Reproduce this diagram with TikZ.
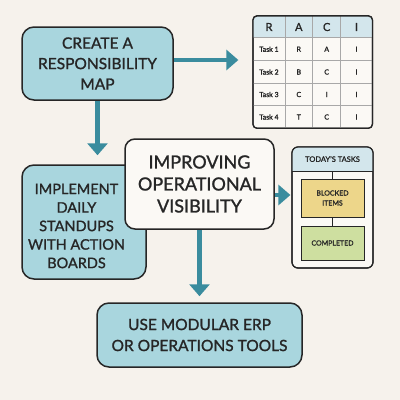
\documentclass[tikz,border=0pt]{standalone}
\usepackage{fontspec}
\setmainfont{Lato}[FakeBold=1.3]
\usetikzlibrary{arrows.meta,calc}
\definecolor{bgc}{HTML}{F6F2EC}
\definecolor{tealbox}{HTML}{A9D6DE}
\definecolor{arrc}{HTML}{3A8C9E}
\definecolor{edge}{HTML}{262626}
\definecolor{hdr}{HTML}{D3E6EC}
\definecolor{paper}{HTML}{FBF9F5}
\definecolor{yel}{HTML}{EDD68A}
\definecolor{grn}{HTML}{CEDFA0}
\definecolor{gridc}{HTML}{A8A8A8}
\tikzset{
  tbox/.style={draw=edge,line width=1.5pt,fill=tealbox,rounded corners=12pt,align=center,inner sep=0pt,text=edge},
  wbox/.style={draw=edge,line width=1.5pt,fill=paper,rounded corners=10pt,align=center,inner sep=0pt,text=edge},
  arr/.style={draw=arrc,line width=4.5pt,-{Triangle[length=12pt,width=20pt]}},
  cell/.style={inner sep=0pt,text=edge,font=\fontsize{7}{8}\selectfont},
  hcell/.style={inner sep=0pt,text=edge,font=\fontsize{11}{12}\selectfont},
  minibox/.style={draw=edge,line width=1pt,align=center,inner sep=0pt,text=edge,font=\fontsize{7}{10}\selectfont}
}
\begin{document}
\begin{tikzpicture}[x=1pt,y=-1pt]
\fill[bgc] (0,0) rectangle (400,400);
\useasboundingbox (0,0) rectangle (400,400);

% table
\node[draw=edge,line width=1.2pt,fill=paper,rounded corners=4pt,minimum width=119.5pt,minimum height=112.5pt,inner sep=0pt] (tbl) at (312.7,72) {};
\begin{scope}
\clip[rounded corners=4pt] (253,16) rectangle (372.4,128.3);
\fill[hdr] (253,16) rectangle (372.4,37.7);
\end{scope}
\draw[gridc,line width=0.8pt] (253,37.7) -- (372.4,37.7);
\foreach \y in {60.7,83.3,105.7} \draw[gridc,line width=0.8pt] (253,\y) -- (372.4,\y);
\foreach \x in {285,312.7,340.7} \draw[gridc,line width=0.8pt] (\x,16) -- (\x,128.3);
\draw[edge,line width=1.2pt,rounded corners=4pt] (253,16) rectangle (372.4,128.3);
\node[hcell] (hR) at (269,27) {R};
\node[hcell] (hA) at (298.8,27) {A};
\node[hcell] (hC) at (326.7,27) {C};
\node[hcell] (hI) at (356.5,27) {I};
\node[cell] (t1) at (269,49.2) {Task 1};
\node[cell] (t2) at (269,72) {Task 2};
\node[cell] (t3) at (269,94.5) {Task 3};
\node[cell] (t4) at (269,117) {Task 4};
\node[cell] (c11) at (298.8,49.2) {R};
\node[cell] (c12) at (326.7,49.2) {A};
\node[cell] (c13) at (356.5,49.2) {I};
\node[cell] (c21) at (298.8,72) {B};
\node[cell] (c22) at (326.7,72) {C};
\node[cell] (c23) at (356.5,72) {I};
\node[cell] (c31) at (298.8,94.5) {C};
\node[cell] (c32) at (326.7,94.5) {I};
\node[cell] (c33) at (356.5,94.5) {I};
\node[cell] (c41) at (298.8,117) {T};
\node[cell] (c42) at (326.7,117) {C};
\node[cell] (c43) at (356.5,117) {I};

% main boxes
\node[tbox,minimum width=151pt,minimum height=73pt,font=\fontsize{15.5}{20.5}\selectfont] (create) at (97.5,63.5) {CREATE A\\RESPONSIBILITY\\MAP};
\node[tbox,minimum width=124pt,minimum height=114pt] (impl) at (84,222) {};
\node[align=center,inner sep=0pt,text=edge,font=\fontsize{14.5}{18.5}\selectfont] (implT) at (76.5,226) {IMPLEMENT\\DAILY\\STANDUPS\\WITH ACTION\\BOARDS};
\node[wbox,minimum width=149pt,minimum height=90pt,font=\fontsize{18}{22}\selectfont] (vis) at (199.5,184) {IMPROVING\\OPERATIONAL\\VISIBILITY};
\node[tbox,minimum width=205pt,minimum height=64pt,font=\fontsize{15.5}{21}\selectfont] (erp) at (199.5,335) {USE MODULAR ERP\\OR OPERATIONS TOOLS};

% tasks panel
\node[draw=edge,line width=1.2pt,fill=paper,rounded corners=6pt,minimum width=81pt,minimum height=121pt,inner sep=0pt] (tasks) at (332.5,207.5) {};
\begin{scope}
\clip[rounded corners=6pt] (292,147) rectangle (373,268);
\fill[hdr] (292,147) rectangle (373,171);
\end{scope}
\draw[edge,line width=0.8pt] (292,171) -- (373,171);
\draw[edge,line width=1.2pt,rounded corners=6pt] (292,147) rectangle (373,268);
\node[inner sep=0pt,text=edge,font=\fontsize{7.5}{9}\selectfont] (tt) at (332.5,159) {TODAY’S TASKS};
\coordinate (hb) at (332.5,171);
\node[minibox,fill=yel,minimum width=63pt,minimum height=38pt] (blk) at (332.5,198) {BLOCKED\\ITEMS};
\node[minibox,fill=grn,minimum width=63pt,minimum height=34pt] (cmp) at (332.5,243) {COMPLETED};
\draw[edge,line width=0.8pt] (hb) -- (blk.north);
\draw[edge,line width=0.8pt] (blk.south) -- (cmp.north);

% arrows
\draw[arr,shorten >=14pt] (create.east |- 0,60) -- (tbl.west |- 0,60);
\draw[arr,shorten >=9pt] (create.south) -- (create.south |- impl.north);
\draw[arr,shorten >=1pt] (vis.east |- 0,195) -- (tasks.west |- 0,195);
\draw[arr,shorten >=6pt] (vis.south) -- (vis.south |- erp.north);
\end{tikzpicture}
\end{document}
